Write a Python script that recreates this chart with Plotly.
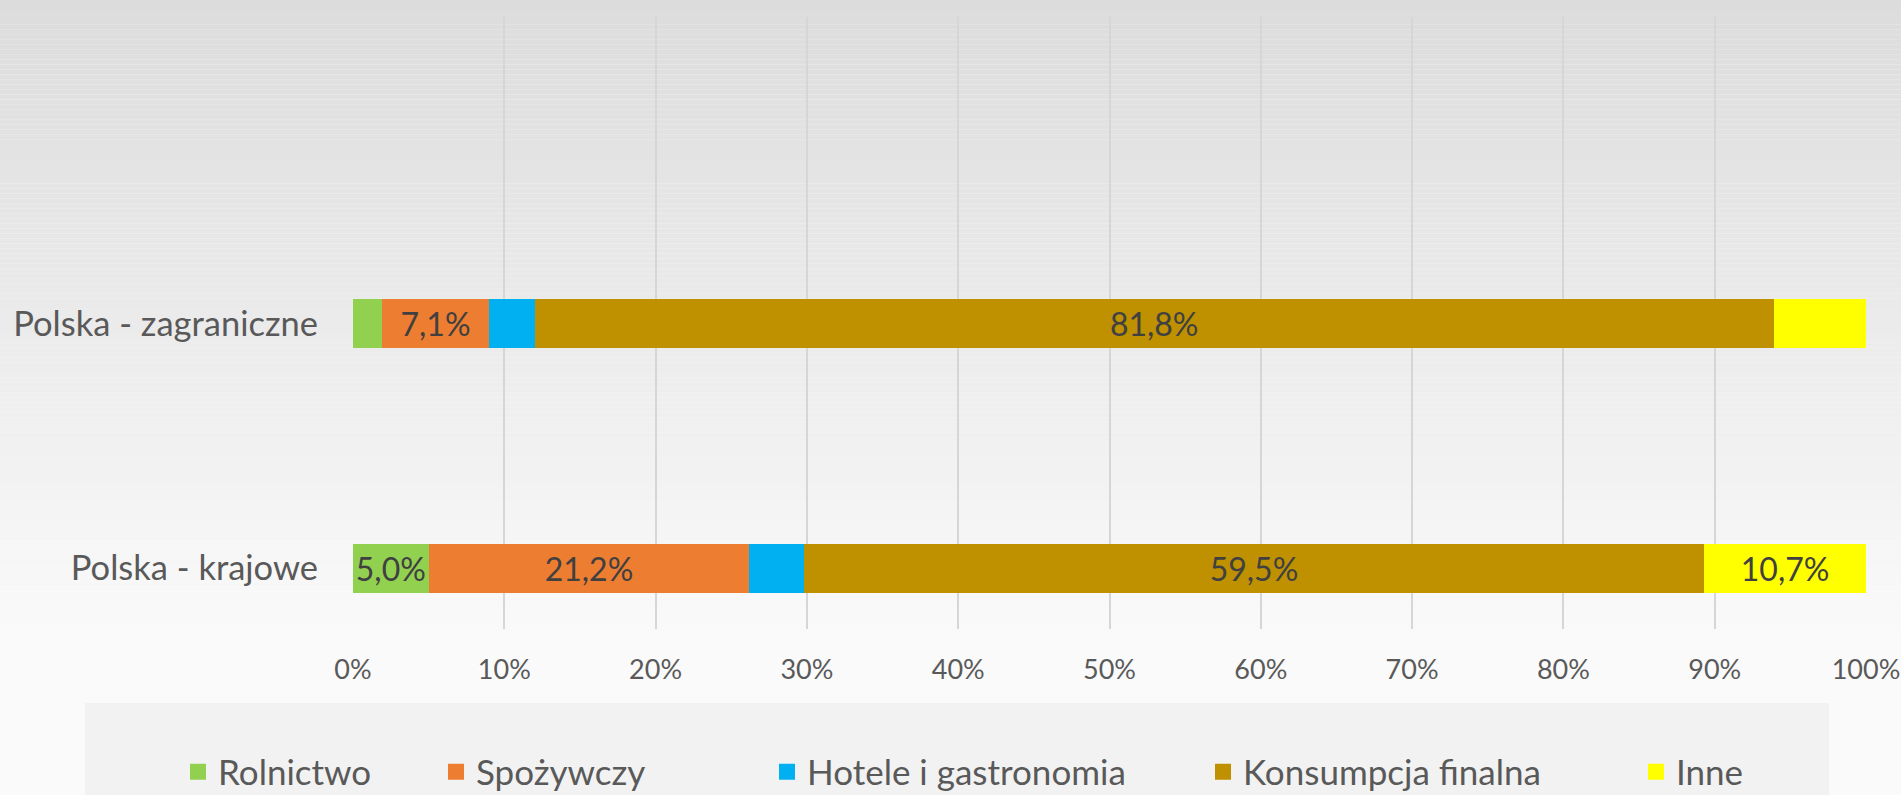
import plotly.graph_objects as go

# ── Data ──────────────────────────────────────────────────────────────────────
regions = ["Polska - krajowe", "Polska - zagraniczne"]
sectors = ["Rolnictwo", "Spożywczy", "Hotele i gastronomia", "Konsumpcja finalna", "Inne"]

# share of each sector (%), order matches `regions`
rolnictwo = [5.0, 1.9]
spozywczy = [21.2, 7.1]
hotele = [3.6, 3.0]
konsumpcja = [59.5, 81.8]
inne = [10.7, 6.1]

# which segments carry a data label in the original
show_label = {
    "Rolnictwo": [True, False],
    "Spożywczy": [True, True],
    "Hotele i gastronomia": [False, False],
    "Konsumpcja finalna": [True, True],
    "Inne": [True, False],
}

colors = ["#92D050", "#ED7D31", "#00B0F0", "#BF9000", "#FFFF00"]
values = [rolnictwo, spozywczy, hotele, konsumpcja, inne]

FONT = "Lato, 'Open Sans', sans-serif"
W, H = 1901, 795
# plot area in pixels
L, R, T, B = 353, 1866, 17, 629


def px_x(p):
    return (p - L) / (R - L)


def px_y(p):
    return (B - p) / (B - T)


fig = go.Figure()

for i, (name, vals, col) in enumerate(zip(sectors, values, colors)):
    labels = [
        f"{v:.1f}%".replace(".", ",") if show else ""
        for v, show in zip(vals, show_label[name])
    ]
    fig.add_trace(go.Bar(
        name=name,
        y=regions,
        x=vals,
        orientation="h",
        width=0.198,
        marker=dict(color=col, line=dict(width=0)),
        text=labels,
        textposition="inside",
        insidetextanchor="middle",
        textangle=0,
        textfont=dict(family=FONT, size=32, color="#404040"),
        showlegend=False,
        hoverinfo="x+y+name",
    ))
    # legend entry with a larger square swatch
    fig.add_trace(go.Scatter(
        name=name,
        x=[None], y=[None],
        mode="markers",
        marker=dict(symbol="square", size=16, color=col),
        legend="legend" if i == 0 else f"legend{i + 1}",
        showlegend=True,
    ))

# ── background: vertical grey gradient + legend panel ────────────────────────
shapes = []
n_bands = 160
top_c, bot_c = 0xDC, 0xFA
for k in range(n_bands):
    y0 = k * H / n_bands
    y1 = (k + 1) * H / n_bands
    f = min(1.0, (y0 + y1) / 2 / 640)
    c = int(round(top_c + (bot_c - top_c) * f))
    shapes.append(dict(
        type="rect", xref="paper", yref="paper", layer="below",
        x0=px_x(0), x1=px_x(W), y0=px_y(y1), y1=px_y(y0),
        fillcolor=f"rgb({c},{c},{c})", line=dict(width=0),
    ))
shapes.append(dict(
    type="rect", xref="paper", yref="paper", layer="below",
    x0=px_x(85), x1=px_x(1829), y0=px_y(H), y1=px_y(703),
    fillcolor="#F2F2F2", line=dict(width=0),
))

# legend entries placed one by one, like the Excel legend row
swatch_centres = [198, 456, 787, 1223, 1656]
legend_layout = {}
for i, cx in enumerate(swatch_centres):
    key = "legend" if i == 0 else f"legend{i + 1}"
    legend_layout[key] = dict(
        x=px_x(cx - 20), xanchor="left",
        y=px_y(772), yanchor="middle",
        orientation="h",
        bgcolor="rgba(0,0,0,0)",
        font=dict(family=FONT, size=35, color="#595959"),
    )

fig.update_layout(
    width=W, height=H,
    barmode="stack",
    barnorm="percent",
    separators=",.",
    paper_bgcolor="#FAFAFA",
    plot_bgcolor="rgba(0,0,0,0)",
    margin=dict(l=L, r=W - R, t=T, b=H - B, pad=0, autoexpand=False),
    font=dict(family=FONT, color="#595959"),
    shapes=shapes,
    uniformtext=dict(minsize=32, mode="show"),
    xaxis=dict(
        range=[0, 100],
        dtick=10,
        ticksuffix="%",
        showgrid=True,
        gridcolor="#D6D6D6",
        gridwidth=2,
        zeroline=False,
        showline=False,
        ticks="",
        ticklabelstandoff=22,
        tickfont=dict(family=FONT, size=27, color="#595959"),
        fixedrange=True,
    ),
    yaxis=dict(
        type="category",
        categoryorder="array",
        categoryarray=regions,
        range=[-0.248, 2.252],
        showgrid=False,
        zeroline=False,
        showline=False,
        ticks="",
        ticklabelstandoff=34,
        tickfont=dict(family=FONT, size=34.5, color="#595959"),
        fixedrange=True,
    ),
    **legend_layout,
)

# drop the default 8px body margin so the figure fills the window exactly
fig.write_html(
    "out.html",
    config={"displayModeBar": False},
    post_script="document.body.style.margin='0';",
)
